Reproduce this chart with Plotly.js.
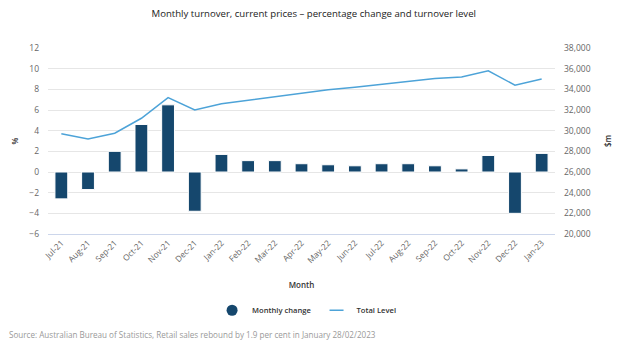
<!DOCTYPE html>
<html>
<head>
<meta charset="utf-8">
<script src="https://cdn.plot.ly/plotly-3.0.1.min.js"></script>
<style>html,body{margin:0;padding:0;background:#fff;}#chart{width:630px;height:350px;}</style>
</head>
<body>
<div id="chart"></div>
<script>
const months = ["Jul-21","Aug-21","Sep-21","Oct-21","Nov-21","Dec-21","Jan-22","Feb-22","Mar-22","Apr-22","May-22","Jun-22","Jul-22","Aug-22","Sep-22","Oct-22","Nov-22","Dec-22","Jan-23"];
const monthlyChange = [-2.6,-1.7,2.0,4.6,6.5,-3.8,1.7,1.1,1.1,0.8,0.7,0.6,0.8,0.8,0.6,0.3,1.6,-4.0,1.8];
const totalLevel = [29700,29200,29750,31200,33200,32000,32600,32950,33300,33630,33950,34200,34500,34800,35050,35200,35800,34400,35000];
const titleText = "Monthly turnover, current prices \u2013 percentage change and turnover level";
const sourceText = "Source: Australian Bureau of Statistics, Retail sales rebound by 1.9 per cent in January 28/02/2023";

const barColor = "#15476d";
const lineColor = "#4da3d8";
const font = "'Open Sans', 'Noto Sans', sans-serif";

const traces = [
  {type:"bar", x:months, y:monthlyChange, name:"Monthly change", showlegend:false,
   marker:{color:barColor, line:{color:"#ffffff", width:1}}, yaxis:"y"},
  {type:"scatter", mode:"lines", x:months, y:totalLevel, name:"Total Level", showlegend:false,
   line:{color:lineColor, width:1.5}, yaxis:"y2"},
  {type:"scatter", mode:"markers", x:[months[0]], y:[null], name:"Monthly change",
   marker:{color:barColor, symbol:"circle", size:11}, yaxis:"y"},
  {type:"scatter", mode:"markers", x:[months[0]], y:[null], name:"Total Level",
   marker:{color:lineColor, symbol:"line-ew", size:10, line:{color:lineColor, width:1.5}}, yaxis:"y2"}
];

const layout = {
  width:630, height:350,
  margin:{l:48, r:75, t:48, b:116},
  paper_bgcolor:"#fff", plot_bgcolor:"#fff",
  font:{family:font, color:"#666", size:8.5},
  title:{text:titleText, font:{family:font, size:9.6, color:"#222"}, x:0.498, xref:"container", y:0.96, yref:"container", yanchor:"middle", xanchor:"center"},
  bargap:0.52,
  showlegend:true,
  legend:{orientation:"h", x:0.51, xanchor:"center", y:-0.41, yanchor:"middle", font:{size:7.6, color:"#333", weight:600}, itemwidth:30, traceorder:"normal"},
  xaxis:{type:"category", range:[-0.5,18.5], tickangle:-45, tickfont:{size:8.3, color:"#666"},
    showgrid:false, showline:true, linecolor:"#ccd6eb", linewidth:1, ticks:"",
    title:{text:"Month", font:{size:8, color:"#333", weight:600}, standoff:18}},
  yaxis:{range:[-6,12], dtick:2, tick0:0, showgrid:true, gridcolor:"#e6e6e6", zeroline:false,
    tickfont:{size:8.5, color:"#666"}, ticks:"", ticklabelstandoff:8,
    title:{text:"%", font:{size:8, color:"#333", weight:600}, standoff:9}},
  yaxis2:{overlaying:"y", side:"right", range:[20000,38000], dtick:2000, tick0:20000, tickformat:",d",
    showgrid:false, zeroline:false, tickfont:{size:8.5, color:"#666"}, ticks:"", ticklabelstandoff:8,
    title:{text:"$m", font:{size:8, color:"#333", weight:600}, standoff:15}},
  annotations:[{text:sourceText, xref:"paper", yref:"paper", x:-0.081, y:-0.538, xanchor:"left", yanchor:"middle", showarrow:false, font:{size:8.1, color:"#999"}}]
};

Plotly.newPlot("chart", traces, layout, {staticPlot:true, displayModeBar:false});
</script>
</body>
</html>
